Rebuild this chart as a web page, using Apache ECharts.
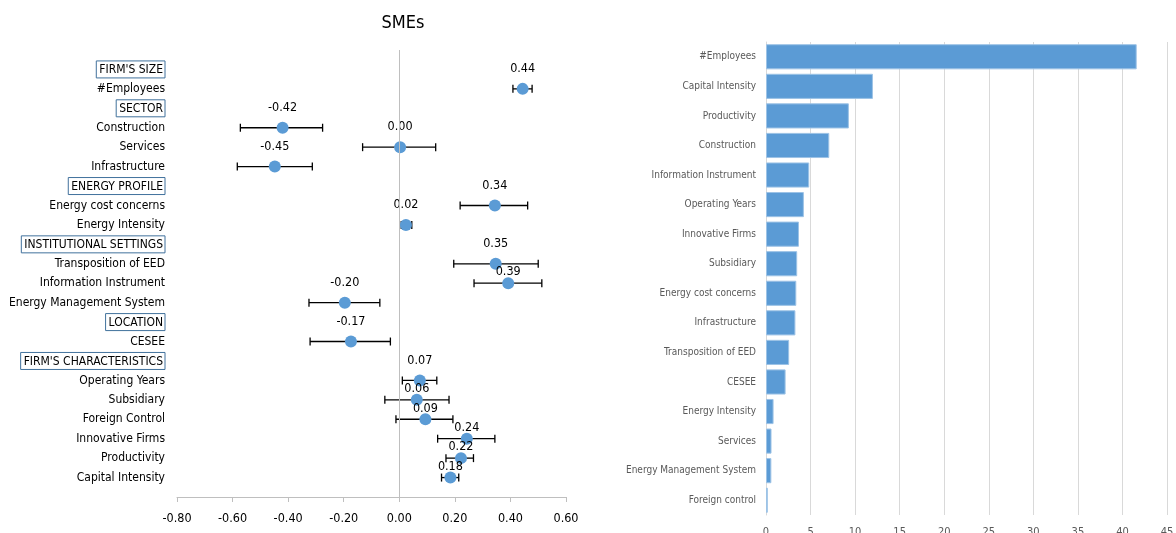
<!DOCTYPE html>
<html>
<head>
<meta charset="utf-8">
<script src="https://cdn.jsdelivr.net/npm/echarts@6/dist/echarts.min.js"></script>
<style>
html,body{margin:0;padding:0;background:#fff;}
#c{width:1176px;height:533px;}
</style>
</head>
<body>
<div id="c"></div>
<script>
// ---- Left chart: SMEs coefficients ----
const rowLabels = ["FIRM'S SIZE","#Employees","SECTOR","Construction","Services","Infrastructure",
  "ENERGY PROFILE","Energy cost concerns","Energy Intensity","INSTITUTIONAL SETTINGS",
  "Transposition of EED","Information Instrument","Energy Management System","LOCATION","CESEE",
  "FIRM'S CHARACTERISTICS","Operating Years","Subsidiary","Foreign Control","Innovative Firms",
  "Productivity","Capital Intensity"];
const headerRows = ["FIRM'S SIZE","SECTOR","ENERGY PROFILE","INSTITUTIONAL SETTINGS","LOCATION","FIRM'S CHARACTERISTICS"];
const coef  = [null,0.444,null,-0.420,0.003,-0.448,null,0.344,0.024,null,0.347,0.392,-0.196,null,-0.174,null,0.074,0.063,0.094,0.243,0.222,0.184];
const lower = [null,0.409,null,-0.572,-0.132,-0.583,null,0.219,0.007,null,0.196,0.269,-0.325,null,-0.321,null,0.011,-0.052,-0.012,0.138,0.168,0.152];
const upper = [null,0.478,null,-0.276,0.131,-0.313,null,0.462,0.045,null,0.500,0.513,-0.070,null,-0.032,null,0.135,0.179,0.193,0.344,0.267,0.214];
const xTicks = [-0.8,-0.6,-0.4,-0.2,0,0.2,0.4,0.6];

// ---- Right chart: importance ----
const impCategories = ["#Employees","Capital Intensity","Productivity","Construction","Information Instrument",
  "Operating Years","Innovative Firms","Subsidiary","Energy cost concerns","Infrastructure",
  "Transposition of EED","CESEE","Energy Intensity","Services","Energy Management System","Foreign control"];
const impValues = [41.6,12.0,9.3,7.1,4.85,4.25,3.7,3.5,3.4,3.3,2.6,2.2,0.85,0.62,0.6,0.2];
const impTicks = [0,5,10,15,20,25,30,35,40,45];

const FONT = "'Liberation Sans Narrow','DejaVu Sans Condensed',sans-serif";
const nearLabels = ["Information Instrument","Subsidiary","Foreign Control","Innovative Firms","Productivity","Capital Intensity"];

const pointData = [];
const errData = [];
rowLabels.forEach((name, i) => {
  if (coef[i] === null) return;
  const near = nearLabels.indexOf(name) >= 0;
  pointData.push({
    value: [coef[i], i + 1],
    label: { offset: [0, near ? -11 : -20] }
  });
  errData.push([lower[i], upper[i], i + 1]);
});

const chart = echarts.init(document.getElementById('c'));
chart.setOption({
  animation: false,
  title: {
    text: 'SMEs', left: 398, top: 9, textAlign: 'center',
    textStyle: { fontFamily: FONT, fontSize: 18, fontWeight: 'normal', color: '#000' }
  },
  grid: [
    { left: 177, width: 389, top: 50, bottom: 36, outerBoundsMode: 'none', containLabel: false },
    { left: 766, right: 9, top: 42, bottom: 18, outerBoundsMode: 'none', containLabel: false }
  ],
  xAxis: [
    {
      gridIndex: 0, type: 'value', min: -0.8, max: 0.6, interval: 0.2,
      axisLine: { onZero: false, lineStyle: { color: '#bfbfbf' } },
      axisTick: { show: true, length: 5, lineStyle: { color: '#bfbfbf' } },
      splitLine: { show: false },
      axisLabel: { color: '#000', fontFamily: FONT, fontSize: 12.5, margin: 15,
        formatter: v => v.toFixed(2) }
    },
    {
      gridIndex: 1, type: 'value', min: 0, max: 45, interval: 5,
      axisLine: { show: false }, axisTick: { show: false },
      splitLine: { show: true, lineStyle: { color: '#d9d9d9' } },
      axisLabel: { color: '#595959', fontFamily: FONT, fontSize: 11, margin: 12 }
    }
  ],
  yAxis: [
    {
      gridIndex: 0, type: 'value', min: 0, max: 23, interval: 1, inverse: true,
      axisLine: { show: false }, axisTick: { show: false }, splitLine: { show: false },
      axisLabel: {
        margin: 12, color: '#000', fontFamily: FONT, fontSize: 12,
        formatter: v => {
          const n = rowLabels[v - 1];
          if (!n) return '';
          return headerRows.indexOf(n) >= 0 ? '{h|' + n + '}' : n;
        },
        rich: {
          h: { borderColor: '#41719c', borderWidth: 1, padding: [3, 2, 2, 3],
               color: '#000', fontFamily: FONT, fontSize: 12 }
        }
      }
    },
    {
      gridIndex: 1, type: 'category', data: impCategories, inverse: true,
      axisLine: { show: true, lineStyle: { color: '#d9d9d9' } }, axisTick: { show: false },
      axisLabel: { color: '#595959', fontFamily: FONT, fontSize: 10, margin: 10 }
    }
  ],
  series: [
    {
      type: 'custom', xAxisIndex: 0, yAxisIndex: 0, data: errData, silent: true, z: 2,
      renderItem: (params, api) => {
        const y = api.value(2);
        const p1 = api.coord([api.value(0), y]);
        const p2 = api.coord([api.value(1), y]);
        const st = { stroke: '#000', lineWidth: 1.3 };
        const c = 4;
        return { type: 'group', children: [
          { type: 'line', shape: { x1: p1[0], y1: p1[1], x2: p2[0], y2: p2[1] }, style: st },
          { type: 'line', shape: { x1: p1[0], y1: p1[1] - c, x2: p1[0], y2: p1[1] + c }, style: st },
          { type: 'line', shape: { x1: p2[0], y1: p2[1] - c, x2: p2[0], y2: p2[1] + c }, style: st }
        ] };
      }
    },
    {
      type: 'scatter', xAxisIndex: 0, yAxisIndex: 0, data: pointData, z: 3,
      symbol: 'circle', symbolSize: 12,
      itemStyle: { color: '#5b9bd5', opacity: 1 },
      label: { show: true, position: 'inside', color: '#000', fontFamily: FONT, fontSize: 12.5,
        formatter: p => p.value[0].toFixed(2) },
      markLine: {
        silent: true, symbol: 'none', label: { show: false },
        lineStyle: { color: '#bfbfbf', type: 'solid', width: 1 },
        data: [{ xAxis: 0 }]
      }
    },
    {
      type: 'bar', xAxisIndex: 1, yAxisIndex: 1, data: impValues,
      barCategoryGap: '15%',
      itemStyle: { color: '#5b9bd5', borderColor: '#9dc3e6', borderWidth: 1 }
    }
  ]
});
</script>
</body>
</html>
